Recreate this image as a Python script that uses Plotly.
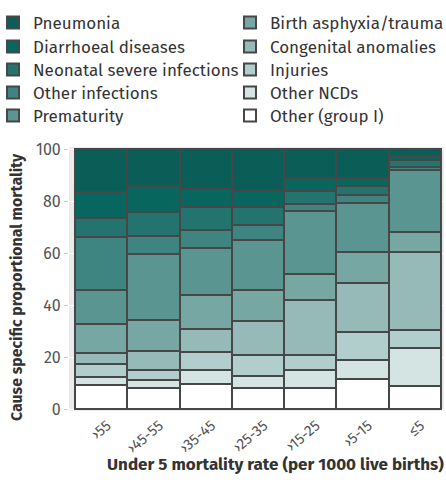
import plotly.graph_objects as go

categories = ["›55", "›45-55", "›35-45", "›25-35", "›15-25", "›5-15", "≤5"]

# bottom -> top stacking order
other_group1 = [9.1, 8.1, 9.8, 7.9, 7.9, 11.7, 8.7]
other_ncds = [3.1, 3.1, 5.2, 4.9, 7.2, 7.0, 14.9]
injuries = [5.1, 3.9, 6.9, 8.1, 5.8, 10.8, 6.9]
congenital = [4.1, 7.1, 9.0, 12.8, 21.0, 19.0, 29.7]
birth_asphyxia = [11.3, 12.0, 13.1, 12.2, 10.0, 11.7, 8.0]
prematurity = [13.1, 25.3, 17.9, 19.1, 24.1, 18.9, 23.7]
other_infections = [20.4, 6.9, 7.1, 5.9, 2.8, 3.1, 1.2]
neonatal_sev = [7.1, 9.2, 8.8, 6.8, 4.9, 3.7, 2.8]
diarrhoeal = [10.2, 10.0, 7.0, 6.3, 5.0, 2.9, 1.3]
pneumonia = [16.5, 14.4, 15.2, 16.0, 11.3, 11.2, 2.8]

series_names = ["Other (group I)", "Other NCDs", "Injuries", "Congenital anomalies",
                "Birth asphyxia/trauma", "Prematurity", "Other infections",
                "Neonatal severe infections", "Diarrhoeal diseases", "Pneumonia"]
series_values = [other_group1, other_ncds, injuries, congenital, birth_asphyxia,
                 prematurity, other_infections, neonatal_sev, diarrhoeal, pneumonia]
series_colors = ["#ffffff", "#d4e4e3", "#b1cecc", "#95bab7", "#77a7a3",
                 "#5a9591", "#3e8480", "#23736f", "#07675f", "#0b5e58"]

font_family = "Fira Sans, Open Sans, sans-serif"

W, H = 446, 494
ML, MR, MT, MB = 69, 2, 147, 83
pw = W - ML - MR
ph = H - MT - MB


def px2x(px):
    return (px - ML) / pw


def px2y(py):
    return (H - MB - py) / ph


# legend layout: two columns of five rows (column-major, top row first)
legend_order = ["Pneumonia", "Diarrhoeal diseases", "Neonatal severe infections",
                "Other infections", "Prematurity", "Birth asphyxia/trauma",
                "Congenital anomalies", "Injuries", "Other NCDs", "Other (group I)"]
col_x = [-7, 230]
row_y = [23, 47, 70, 93, 116]

fig = go.Figure()
legend_layouts = {}
for name, vals, color in zip(series_names, series_values, series_colors):
    idx = legend_order.index(name)
    key = "legend" if idx == 0 else f"legend{idx + 1}"
    fig.add_trace(go.Bar(
        x=categories, y=vals, name=name, legend=key,
        marker=dict(color=color, line=dict(color="#474747", width=2)),
        width=1,
    ))
    legend_layouts[key] = dict(
        x=px2x(col_x[idx // 5]), y=px2y(row_y[idx % 5]),
        xanchor="left", yanchor="middle",
        font=dict(family=font_family, size=17, color="#333333"),
        bgcolor="rgba(0,0,0,0)", itemwidth=30,
    )

fig.update_layout(
    width=W, height=H,
    margin=dict(l=ML, r=MR, t=MT, b=MB, autoexpand=False),
    barmode="stack", bargap=0,
    plot_bgcolor="#ebebeb", paper_bgcolor="#ffffff",
    font=dict(family=font_family, color="#444444"),
    xaxis=dict(
        range=[-0.615, 6.56], tickangle=-40, showgrid=False,
        tickfont=dict(size=15, color="#555555"), ticks="", showline=False,
        ticklabelshift=6, ticklabelstandoff=2,
    ),
    yaxis=dict(
        range=[-0.77, 100.77], tickvals=[0, 20, 40, 60, 80, 100],
        showgrid=True, gridcolor="#ffffff", gridwidth=1.2, zeroline=False,
        ticks="outside", ticklen=4, tickcolor="#cccccc",
        tickfont=dict(size=16, color="#555555"),
    ),
    showlegend=True,
    annotations=[
        dict(text="<b>Cause specific proportional mortality</b>", textangle=-90,
             x=px2x(16), y=px2y(287), xref="paper", yref="paper", showarrow=False,
             xanchor="center", yanchor="middle",
             font=dict(size=15.8, color="#333333")),
        dict(text="<b>Under 5 mortality rate (per 1000 live births)</b>",
             x=px2x(275), y=px2y(464), xref="paper", yref="paper", showarrow=False,
             xanchor="center", yanchor="middle",
             font=dict(size=17, color="#333333")),
    ],
    **legend_layouts,
)

fig.write_html("out.html", config={"displayModeBar": False},
               post_script="document.body.style.margin='0';")
